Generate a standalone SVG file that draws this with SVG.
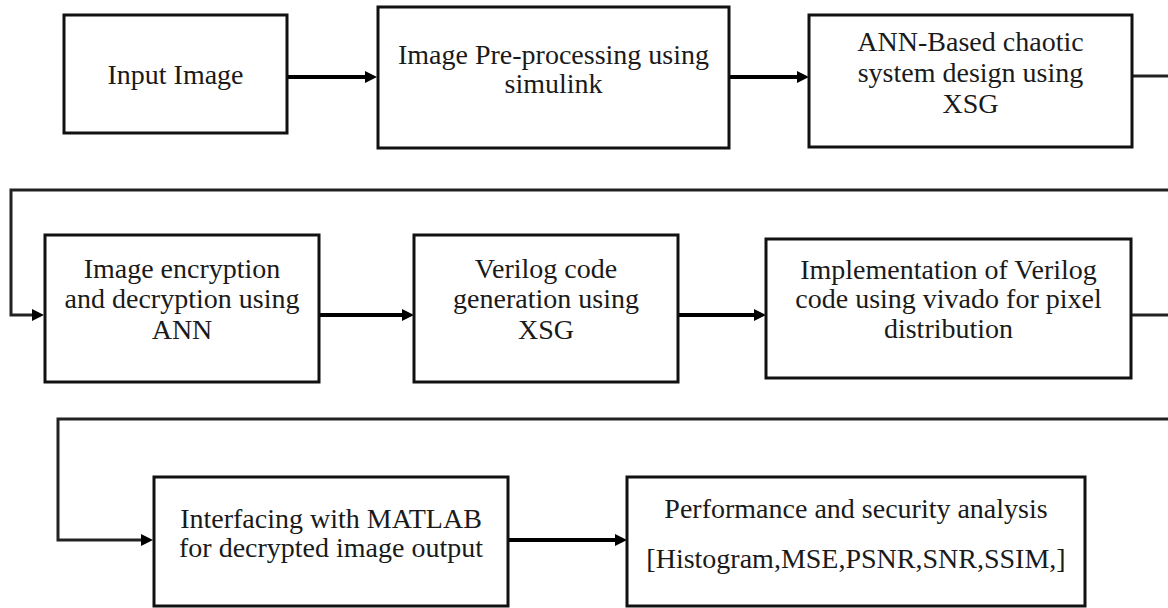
<svg xmlns="http://www.w3.org/2000/svg" width="1168" height="608" viewBox="0 0 1168 608">
<style>
.box{fill:#fff;stroke:#111;stroke-width:3}
.lbl{font-family:"Liberation Serif","Times New Roman",serif;font-size:28px;fill:#1a1a1a;text-anchor:middle}
.arr{fill:none;stroke:#000;stroke-width:4}
.ret{fill:none;stroke:#222;stroke-width:3}
</style>
<defs>
<marker id="ah" markerUnits="userSpaceOnUse" markerWidth="12" markerHeight="12" refX="0" refY="6" orient="auto">
<path d="M0,0 L12,6 L0,12 z" fill="#000"/>
</marker>
</defs>
<rect width="1168" height="608" fill="#fff"/>
<g id="connectors">
<path class="arr" d="M287,77 H365" marker-end="url(#ah)"/>
<path class="arr" d="M729,77 H797" marker-end="url(#ah)"/>
<path class="ret" d="M1132,76 H1168"/>
<path class="ret" d="M1168,190 H11 V315 H32" marker-end="url(#ah)"/>
<path class="arr" d="M319,315 H402" marker-end="url(#ah)"/>
<path class="arr" d="M678,315 H754" marker-end="url(#ah)"/>
<path class="ret" d="M1131,315 H1168"/>
<path class="ret" d="M1168,419 H58 V540 H141" marker-end="url(#ah)"/>
<path class="arr" d="M508,540 H615" marker-end="url(#ah)"/>
</g>
<g id="n1">
<rect class="box" x="64" y="15" width="223" height="118"/>
<text class="lbl" x="175.5" y="84">Input Image</text>
</g>
<g id="n2">
<rect class="box" x="378" y="7" width="351" height="141"/>
<text class="lbl" x="553.5" y="64">Image Pre-processing using</text>
<text class="lbl" x="553.5" y="93">simulink</text>
</g>
<g id="n3">
<rect class="box" x="809" y="15" width="323" height="132"/>
<text class="lbl" x="970.5" y="51">ANN-Based chaotic</text>
<text class="lbl" x="970.5" y="82">system design using</text>
<text class="lbl" x="970.5" y="113">XSG</text>
</g>
<g id="n4">
<rect class="box" x="45" y="235" width="274" height="147"/>
<text class="lbl" x="182" y="278">Image encryption</text>
<text class="lbl" x="182" y="308">and decryption using</text>
<text class="lbl" x="182" y="339">ANN</text>
</g>
<g id="n5">
<rect class="box" x="414" y="235" width="264" height="147"/>
<text class="lbl" x="546" y="278">Verilog code</text>
<text class="lbl" x="546" y="308">generation using</text>
<text class="lbl" x="546" y="339">XSG</text>
</g>
<g id="n6">
<rect class="box" x="766" y="239" width="365" height="139"/>
<text class="lbl" x="948.5" y="279">Implementation of Verilog</text>
<text class="lbl" x="948.5" y="308">code using vivado for pixel</text>
<text class="lbl" x="948.5" y="338">distribution</text>
</g>
<g id="n7">
<rect class="box" x="154" y="477" width="354" height="129"/>
<text class="lbl" x="331" y="528">Interfacing with MATLAB</text>
<text class="lbl" x="331" y="557">for decrypted image output</text>
</g>
<g id="n8">
<rect class="box" x="627" y="477" width="458" height="129"/>
<text class="lbl" x="856" y="518">Performance and security analysis</text>
<text class="lbl" x="856" y="568">[Histogram,MSE,PSNR,SNR,SSIM,]</text>
</g>
</svg>
